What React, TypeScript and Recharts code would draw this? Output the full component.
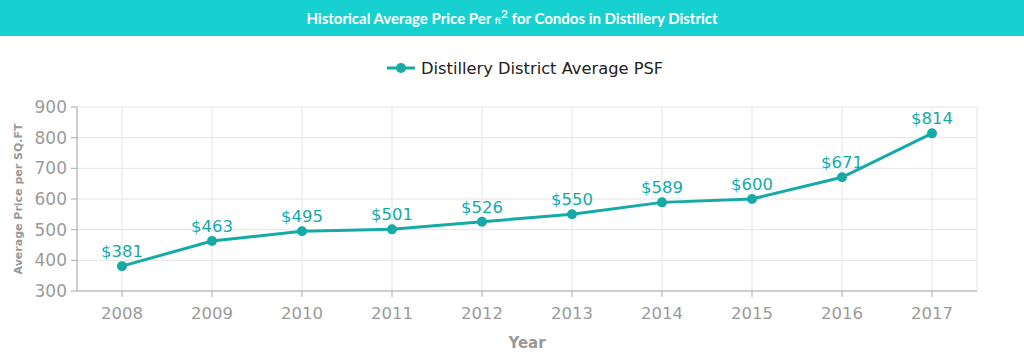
import React from "react";
import { LineChart, Line, XAxis, YAxis, CartesianGrid, LabelList, Label } from "recharts";

const years = ["2008", "2009", "2010", "2011", "2012", "2013", "2014", "2015", "2016", "2017"];
const psf = [381, 463, 495, 501, 526, 550, 589, 600, 671, 814];
const yTicks = [300, 400, 500, 600, 700, 800, 900];
const seriesName = "Distillery District Average PSF";

const data = years.map((y, i) => ({ year: y, psf: psf[i] }));

const TEAL = "#16aaa7";
const GRAY = "#9b9b9b";
const FONT = "'DejaVu Sans', Verdana, sans-serif";

export default function App() {
  return (
    <div style={{ position: "absolute", left: 0, top: 0, width: 1024, height: 360, background: "#fff", overflow: "hidden" }}>
      <div
        style={{
          position: "absolute", left: 0, top: 0, width: 1024, height: 36,
          background: "#17d1d0", color: "#fff", textAlign: "center",
          fontFamily: "Lato, 'Open Sans', sans-serif", fontWeight: 700, fontSize: 15, lineHeight: "36px",
        }}
      >
        Historical Average Price Per <span style={{ fontSize: 9 }}>ft</span>
        <sup style={{ fontSize: 12, lineHeight: 0 }}>2</sup> for Condos in Distillery District
      </div>
      <div
        style={{
          position: "absolute", left: 386, top: 57, height: 22, display: "flex", alignItems: "center",
          fontFamily: FONT, fontSize: 16.3, color: "#222",
        }}
      >
        <svg width={30} height={12} style={{ marginRight: 5 }}>
          <line x1={1} y1={6} x2={29} y2={6} stroke={TEAL} strokeWidth={3} />
          <circle cx={15} cy={6} r={5} fill={TEAL} />
        </svg>
        <span>{seriesName}</span>
      </div>
      <div style={{ position: "absolute", left: 0, top: 36 }}>
        <LineChart width={1024} height={324} data={data} margin={{ top: 71, right: 47, left: 0, bottom: 0 }}>
          <CartesianGrid stroke="#e5e5e5" strokeWidth={1} horizontal={true} vertical={true} />
          <XAxis
            dataKey="year"
            height={69}
            padding={{ left: 45, right: 45 }}
            axisLine={{ stroke: "#aaaaaa" }}
            tickLine={{ stroke: "#aaaaaa" }}
            tickSize={6}
            tick={{ fill: GRAY, fontSize: 16.5, fontFamily: FONT }}
            tickMargin={10}
          >
            <Label value="Year" position="insideBottom" offset={12} fill="#999" fontSize={15} fontWeight={700} fontFamily={FONT} />
          </XAxis>
          <YAxis
            width={77}
            domain={[300, 900]}
            ticks={yTicks}
            interval={0}
            axisLine={{ stroke: "#aaaaaa" }}
            tickLine={{ stroke: "#aaaaaa" }}
            tickSize={6}
            tickMargin={4}
            tick={{ fill: GRAY, fontSize: 17, fontFamily: FONT }}
          >
            <Label
              value="Average Price per SQ.FT"
              angle={-90}
              position="insideLeft"
              offset={18}
              style={{ textAnchor: "middle" }}
              fill="#999"
              fontSize={11}
              fontWeight={700}
              fontFamily={FONT}
            />
          </YAxis>
          <Line
            type="linear"
            dataKey="psf"
            name={seriesName}
            stroke={TEAL}
            strokeWidth={3}
            dot={{ r: 5, fill: TEAL, stroke: TEAL, strokeWidth: 0 }}
            isAnimationActive={false}
          >
            <LabelList
              dataKey="psf"
              position="top"
              offset={9}
              formatter={(v: number) => `$${v}`}
              fill={TEAL}
              fontSize={16.5}
              fontFamily={FONT}
            />
          </Line>
        </LineChart>
      </div>
    </div>
  );
}
